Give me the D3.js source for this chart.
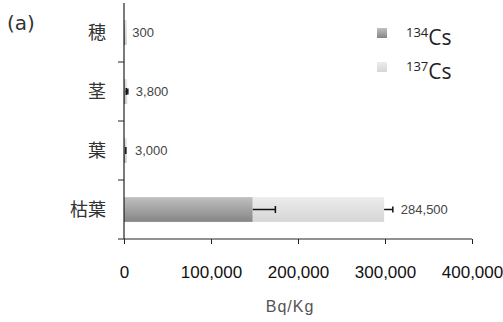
<!DOCTYPE html>
<html>
<head>
<meta charset="utf-8">
<script src="https://cdn.jsdelivr.net/npm/d3@7"></script>
<style>
  body { margin: 0; background: #fff; }
  svg { display: block; }
</style>
</head>
<body>
<svg id="chart"></svg>
<script>
// data
var categories = ["穂", "茎", "葉", "枯葉"];
var cs134 = [150, 1800, 1400, 148000];
var cs137 = [150, 2000, 1600, 151000];
var err134 = [0, 800, 700, 26000];
var err137 = [0, 600, 500, 10000];
var valueLabels = ["300", "3,800", "3,000", "284,500"];
var xTicks = [0, 100000, 200000, 300000, 400000];

var width = 503, height = 322;

var svg = d3.select("#chart").attr("width", width).attr("height", height);

var x = d3.scaleLinear().domain([0, 400000]).range([124, 472]);
var y = d3.scaleBand().domain(categories).range([3, 239]).paddingInner(0.58).paddingOuter(0.29);

var defs = svg.append("defs");
var g1 = defs.append("linearGradient").attr("id", "g134").attr("x1", 0).attr("y1", 0).attr("x2", 0).attr("y2", 1);
g1.append("stop").attr("offset", "0%").attr("stop-color", "#c0c0c0");
g1.append("stop").attr("offset", "100%").attr("stop-color", "#858585");
var g2 = defs.append("linearGradient").attr("id", "g137").attr("x1", 0).attr("y1", 0).attr("x2", 0).attr("y2", 1);
g2.append("stop").attr("offset", "0%").attr("stop-color", "#ececec");
g2.append("stop").attr("offset", "100%").attr("stop-color", "#d6d6d6");

var rows = categories.map(function (c, i) {
  return {cat: c, a: cs134[i], b: cs137[i], ea: err134[i], eb: err137[i], label: valueLabels[i]};
});

// bars
var bars = svg.append("g");
bars.selectAll("rect.a").data(rows).enter().append("rect")
  .attr("x", x(0))
  .attr("y", d => y(d.cat))
  .attr("width", d => Math.max(1.5, x(d.a) - x(0)))
  .attr("height", y.bandwidth())
  .attr("fill", "url(#g134)");
bars.selectAll("rect.b").data(rows).enter().append("rect")
  .attr("x", d => Math.max(x(0) + 1.5, x(d.a)))
  .attr("y", d => y(d.cat))
  .attr("width", d => Math.max(1.5, x(d.a + d.b) - x(d.a)))
  .attr("height", y.bandwidth())
  .attr("fill", "url(#g137)");

// error bars
function errBar(sel, from, to, cap) {
  sel.each(function (d) {
    var g = d3.select(this);
    var cy = y(d.cat) + y.bandwidth() / 2;
    var x0 = x(from(d)), x1 = x(to(d));
    if (x1 - x0 < 0.5) return;
    g.append("line").attr("x1", x0).attr("x2", x1).attr("y1", cy).attr("y2", cy)
      .attr("stroke", "#111").attr("stroke-width", 1.5);
    g.append("line").attr("x1", x1).attr("x2", x1).attr("y1", cy - cap).attr("y2", cy + cap)
      .attr("stroke", "#111").attr("stroke-width", 1.5);
  });
}
var eg = svg.append("g");
errBar(eg.selectAll("g.ea").data(rows).enter().append("g"), d => d.a, d => d.a + d.ea, 3.5);
errBar(eg.selectAll("g.eb").data(rows).enter().append("g"), d => d.a + d.b, d => d.a + d.b + d.eb, 3);

// value labels
svg.append("g").selectAll("text").data(rows).enter().append("text")
  .attr("x", d => x(d.a + d.b + d.eb) + 8)
  .attr("y", d => y(d.cat) + y.bandwidth() / 2 + 4.5)
  .attr("font-family", "Liberation Sans, Arial, sans-serif")
  .attr("font-size", 13)
  .attr("fill", "#444")
  .text(d => d.label);

// y axis
var ya = svg.append("g");
ya.append("line").attr("x1", x(0)).attr("x2", x(0)).attr("y1", 3).attr("y2", 239)
  .attr("stroke", "#222").attr("stroke-width", 1.2);
ya.selectAll("line.t").data(categories.slice(1)).enter().append("line")
  .attr("x1", x(0) - 6).attr("x2", x(0))
  .attr("y1", d => y(d) - y.step() * y.paddingInner() / 2)
  .attr("y2", d => y(d) - y.step() * y.paddingInner() / 2)
  .attr("stroke", "#222").attr("stroke-width", 1);
ya.selectAll("text").data(categories).enter().append("text")
  .attr("x", 106)
  .attr("y", d => y(d) + y.bandwidth() / 2 + 6.5)
  .attr("text-anchor", "end")
  .attr("font-family", "Noto Sans CJK JP, sans-serif")
  .attr("font-size", 18)
  .attr("fill", "#333")
  .text(d => d);

// x axis
var xa = svg.append("g").attr("transform", "translate(0,239)")
  .call(d3.axisBottom(x).tickValues(xTicks).tickSize(5).tickSizeOuter(0).tickFormat(d3.format(",")));
xa.select(".domain").attr("d", "M118,0H" + x(400000)).attr("stroke", "#222");
xa.selectAll(".tick line").attr("stroke", "#222");
xa.selectAll(".tick text")
  .attr("y", 27)
  .attr("font-family", "Liberation Sans, Arial, sans-serif")
  .attr("font-size", 17)
  .attr("fill", "#111");

svg.append("text")
  .attr("x", 290).attr("y", 312)
  .attr("text-anchor", "middle")
  .attr("font-family", "Liberation Sans, Arial, sans-serif")
  .attr("font-size", 16)
  .attr("letter-spacing", 1)
  .attr("fill", "#555")
  .text("Bq/Kg");

svg.append("text")
  .attr("x", 7).attr("y", 30)
  .attr("font-family", "DejaVu Sans, sans-serif")
  .attr("font-size", 20)
  .attr("fill", "#333")
  .text("(a)");

// legend
var legend = [{iso: "134", fill: "url(#g134)"}, {iso: "137", fill: "url(#g137)"}];
var lg = svg.append("g").selectAll("g").data(legend).enter().append("g")
  .attr("transform", (d, i) => "translate(377," + (28 + i * 34) + ")");
lg.append("rect").attr("width", 10).attr("height", 10).attr("fill", d => d.fill);
var lt = lg.append("text").attr("x", 29).attr("y", 17)
  .attr("font-family", "Open Sans, sans-serif").attr("fill", "#222");
lt.append("tspan").attr("font-size", 13).attr("dy", -8).text(d => d.iso);
lt.append("tspan").attr("font-size", 21).attr("dy", 8).text("Cs");
</script>
</body>
</html>
